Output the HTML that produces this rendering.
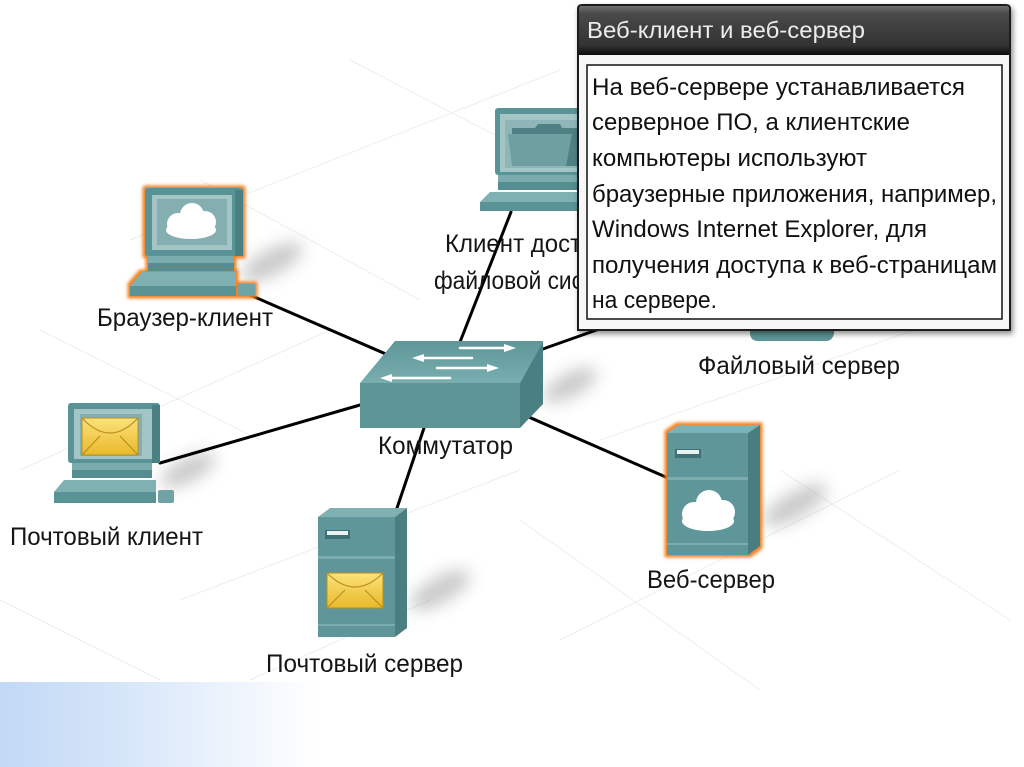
<!DOCTYPE html>
<html><head><meta charset="utf-8"><style>
html,body{margin:0;padding:0;background:#fff;}
svg{display:block;}
text{font-family:"Liberation Sans","Noto Sans CJK SC",sans-serif;}
</style></head><body>
<svg width="1024" height="767" viewBox="0 0 1024 767" xmlns="http://www.w3.org/2000/svg">
<defs>
 <linearGradient id="band" x1="0" x2="1" y1="0" y2="0">
  <stop offset="0" stop-color="#c2d8f5"/><stop offset="0.12" stop-color="#d6e6f9"/><stop offset="0.31" stop-color="#ffffff"/>
 </linearGradient>
 <linearGradient id="hdr" x1="0" x2="0" y1="0" y2="1">
  <stop offset="0" stop-color="#6e6e6e"/><stop offset="0.15" stop-color="#4a4a4a"/><stop offset="0.8" stop-color="#333"/><stop offset="1" stop-color="#0c0c0c"/>
 </linearGradient>
 <linearGradient id="env" x1="0" x2="0" y1="0" y2="1">
  <stop offset="0" stop-color="#fbe27a"/><stop offset="1" stop-color="#e9b92a"/>
 </linearGradient>
 <linearGradient id="swtop" x1="0" x2="0" y1="0" y2="1">
  <stop offset="0" stop-color="#5f9698"/><stop offset="1" stop-color="#79aeb0"/>
 </linearGradient>
 <filter id="glow" x="-20%" y="-20%" width="140%" height="140%">
  <feMorphology operator="dilate" radius="2.5" in="SourceAlpha" result="d"/>
  <feGaussianBlur in="d" stdDeviation="1.6" result="b"/>
  <feFlood flood-color="#f2801f"/>
  <feComposite in2="b" operator="in" result="g"/>
  <feMerge><feMergeNode in="g"/><feMergeNode in="SourceGraphic"/></feMerge>
 </filter>
 <filter id="blur" x="-50%" y="-50%" width="200%" height="200%"><feGaussianBlur stdDeviation="8"/></filter>
 <filter id="tshadow" x="-10%" y="-10%" width="120%" height="120%"><feDropShadow dx="2" dy="3" stdDeviation="3" flood-color="#000" flood-opacity="0.45"/></filter>
</defs>

<rect x="0" y="0" width="1024" height="767" fill="#fff"/>
<rect x="0" y="682" width="1024" height="85" fill="url(#band)"/>

<!-- faint floor grid -->
<g stroke="#eeeeee" stroke-width="1" fill="none">
 <line x1="130" y1="240" x2="560" y2="70"/>
 <line x1="350" y1="60" x2="620" y2="200"/>
 <line x1="200" y1="180" x2="420" y2="300"/>
 <line x1="20" y1="470" x2="330" y2="330"/>
 <line x1="40" y1="330" x2="260" y2="440"/>
 <line x1="180" y1="600" x2="520" y2="470"/>
 <line x1="520" y1="520" x2="760" y2="690"/>
 <line x1="600" y1="440" x2="1000" y2="300"/>
 <line x1="780" y1="470" x2="1010" y2="620"/>
 <line x1="560" y1="640" x2="900" y2="470"/>
 <line x1="250" y1="680" x2="430" y2="600"/>
 <line x1="0" y1="600" x2="160" y2="680"/>
</g>

<!-- shadows -->
<g fill="#8a8a8a" opacity="0.45" filter="url(#blur)">
 <ellipse cx="272" cy="262" rx="34" ry="13" transform="rotate(-28 272 262)"/>
 <ellipse cx="188" cy="470" rx="30" ry="12" transform="rotate(-28 188 470)"/>
 <ellipse cx="570" cy="385" rx="30" ry="12" transform="rotate(-28 570 385)"/>
 <ellipse cx="440" cy="590" rx="34" ry="13" transform="rotate(-30 440 590)"/>
 <ellipse cx="795" cy="505" rx="36" ry="13" transform="rotate(-30 795 505)"/>
</g>

<!-- connections -->
<g stroke="#000" stroke-width="3" stroke-linecap="round">
 <line x1="250" y1="295" x2="395" y2="358"/>
 <line x1="160" y1="463" x2="360" y2="405"/>
 <line x1="397" y1="508" x2="424" y2="428"/>
 <line x1="511" y1="212" x2="460" y2="342"/>
 <line x1="540" y1="350" x2="605" y2="327"/>
 <line x1="515" y1="411" x2="668" y2="478"/>
</g>

<!-- Browser client PC -->
<g filter="url(#glow)">
 <rect x="145" y="188" width="98" height="68" rx="3" fill="#5a9396"/>
 <rect x="235" y="190" width="8" height="66" fill="#4a8083"/>
 <rect x="152" y="195" width="80" height="55" fill="#a3c5c6"/>
 <rect x="157" y="199" width="70" height="46" fill="#84aeaf"/>
 <rect x="148" y="256" width="86" height="7" fill="#7aacae"/>
 <rect x="148" y="263" width="86" height="8" fill="#558d90"/>
 <polygon points="142,272 236,272 236,286 130,286" fill="#7fb0b2"/>
 <rect x="130" y="286" width="106" height="10" fill="#5a9396"/>
 <rect x="238" y="284" width="17" height="12" rx="2" fill="#6fa3a5"/>
</g>
<g fill="#fff">
 <circle cx="178" cy="224" r="11"/>
 <circle cx="192" cy="215" r="12"/>
 <circle cx="205" cy="222" r="11"/>
 <ellipse cx="191" cy="230" rx="25" ry="9"/>
</g>

<!-- Mail client PC -->
<g>
 <rect x="68" y="403" width="92" height="60" rx="3" fill="#5a9396"/>
 <rect x="152" y="405" width="8" height="58" fill="#4a8083"/>
 <rect x="74" y="409" width="78" height="50" fill="#a3c5c6"/>
 <rect x="80" y="414" width="62" height="42" fill="#84aeaf"/>
 <rect x="82" y="418" width="56" height="37" fill="url(#env)" stroke="#b98f22" stroke-width="1"/>
 <path d="M82 418 Q110 448 138 418 M82 455 L100 436 M138 455 L120 436" stroke="#b98f22" stroke-width="1.2" fill="none"/>
 <rect x="72" y="463" width="80" height="7" fill="#7aacae"/>
 <rect x="72" y="470" width="80" height="8" fill="#558d90"/>
 <polygon points="64,480 156,480 156,492 54,492" fill="#7fb0b2"/>
 <rect x="54" y="492" width="102" height="11" fill="#5a9396"/>
 <rect x="158" y="490" width="16" height="13" rx="2" fill="#6fa3a5"/>
</g>

<!-- File client PC (partially covered) -->
<g>
 <rect x="495" y="108" width="100" height="67" rx="3" fill="#5a9396"/>
 <rect x="500" y="114" width="90" height="58" fill="#a3c5c6"/>
 <rect x="505" y="120" width="80" height="48" fill="#8fb6b7"/>
 <polygon points="512,128 535,128 538,124 560,124 562,128 580,128 580,166 512,166" fill="#4f8184"/>
 <polygon points="508,134 572,134 566,166 512,166" fill="#6f9fa1"/>
 <rect x="498" y="175" width="90" height="7" fill="#7aacae"/>
 <rect x="498" y="182" width="90" height="8" fill="#558d90"/>
 <polygon points="490,192 590,192 590,202 480,202" fill="#7fb0b2"/>
 <rect x="480" y="202" width="110" height="9" fill="#5a9396"/>
</g>

<!-- File server visible bit -->
<path d="M750 318 L834 318 L834 334 Q832 341 826 341 L758 341 Q751 341 750 334 Z" fill="#5e9699"/>

<!-- Switch -->
<g>
 <polygon points="395,341 543,341 520,383 360,383" fill="url(#swtop)"/>
 <rect x="360" y="383" width="160" height="45" fill="#5d9597"/>
 <polygon points="520,383 543,341 543,404 520,428" fill="#4b8083"/>
 <g stroke="#fff" stroke-width="2.5" fill="#fff" stroke-linecap="round">
  <line x1="460" y1="348" x2="506" y2="348"/><polygon points="516,348 504,344 504,352" stroke="none"/>
  <line x1="422" y1="358" x2="472" y2="358"/><polygon points="412,358 424,354 424,362" stroke="none"/>
  <line x1="437" y1="368" x2="489" y2="368"/><polygon points="499,368 487,364 487,372" stroke="none"/>
  <line x1="390" y1="378" x2="450" y2="378"/><polygon points="380,378 392,374 392,382" stroke="none"/>
 </g>
</g>

<!-- Mail server -->
<g>
 <polygon points="318,517 330,508 407,508 395,517" fill="#7fb0b2"/>
 <rect x="318" y="517" width="77" height="120" fill="#5e9699"/>
 <polygon points="395,517 407,508 407,628 395,637" fill="#4a7e81"/>
 <rect x="318" y="556" width="77" height="3" fill="#7aabad"/>
 <rect x="318" y="624" width="77" height="2" fill="#7aabad"/>
 <rect x="325" y="530" width="25" height="9" fill="#3f7073"/>
 <rect x="327" y="531" width="21" height="4" fill="#e9f2f2"/>
 <rect x="327" y="573" width="56" height="35" fill="url(#env)" stroke="#b98f22" stroke-width="1"/>
 <path d="M327 573 Q355 601 383 573 M327 608 L345 590 M383 608 L365 590" stroke="#b98f22" stroke-width="1.2" fill="none"/>
</g>

<!-- Web server -->
<g filter="url(#glow)">
 <polygon points="667,433 679,425 760,425 748,433" fill="#7fb0b2"/>
 <rect x="667" y="433" width="81" height="122" fill="#5e9699"/>
 <polygon points="748,433 760,425 760,546 748,555" fill="#4a7e81"/>
</g>
<rect x="667" y="477" width="81" height="3" fill="#7aabad"/>
<rect x="667" y="543" width="81" height="2" fill="#7aabad"/>
<rect x="675" y="449" width="26" height="9" fill="#3f7073"/>
<rect x="677" y="450" width="22" height="4" fill="#e9f2f2"/>
<g fill="#fff">
 <circle cx="694" cy="514" r="12"/>
 <circle cx="709" cy="503" r="13"/>
 <circle cx="723" cy="512" r="12"/>
 <ellipse cx="708" cy="521" rx="26" ry="10"/>
</g>

<!-- Labels -->
<g fill="#151515" font-size="25">
 <text x="97" y="326" textLength="176" lengthAdjust="spacingAndGlyphs">Браузер-клиент</text>
 <text x="10" y="545" textLength="193" lengthAdjust="spacingAndGlyphs">Почтовый клиент</text>
 <text x="378" y="454" textLength="135" lengthAdjust="spacingAndGlyphs">Коммутатор</text>
 <text x="266" y="672" textLength="197" lengthAdjust="spacingAndGlyphs">Почтовый сервер</text>
 <text x="647" y="588" textLength="128" lengthAdjust="spacingAndGlyphs">Веб-сервер</text>
 <text x="698" y="374" textLength="202" lengthAdjust="spacingAndGlyphs">Файловый сервер</text>
 <text x="445" y="252" textLength="192" lengthAdjust="spacingAndGlyphs">Клиент доступа к</text>
 <text x="434" y="289" textLength="200" lengthAdjust="spacingAndGlyphs">файловой системе</text>
</g>

<!-- Tooltip -->
<g filter="url(#tshadow)">
 <path d="M582 5 L1006 5 Q1010 5 1010 9 L1010 330 L578 330 L578 9 Q578 5 582 5 Z" fill="#f7f7f7" stroke="#1e1e1e" stroke-width="2"/>
</g>
<path d="M582 6 L1006 6 Q1009 6 1009 9 L1009 55 L579 55 L579 9 Q579 6 582 6 Z" fill="url(#hdr)"/>
<text x="587" y="38" font-size="23" fill="#ececec" textLength="278" lengthAdjust="spacingAndGlyphs">Веб-клиент и веб-сервер</text>
<rect x="587" y="65" width="415" height="254" fill="#fff" stroke="#111" stroke-width="1.5"/>
<g fill="#111" font-size="24">
 <text x="592" y="95" textLength="373" lengthAdjust="spacingAndGlyphs">На веб-сервере устанавливается</text>
 <text x="592" y="130" textLength="318" lengthAdjust="spacingAndGlyphs">серверное ПО, а клиентские</text>
 <text x="592" y="166" textLength="275" lengthAdjust="spacingAndGlyphs">компьютеры используют</text>
 <text x="592" y="202" textLength="405" lengthAdjust="spacingAndGlyphs">браузерные приложения, например,</text>
 <text x="592" y="237" textLength="335" lengthAdjust="spacingAndGlyphs">Windows Internet Explorer, для</text>
 <text x="592" y="273" textLength="405" lengthAdjust="spacingAndGlyphs">получения доступа к веб-страницам</text>
 <text x="592" y="308" textLength="125" lengthAdjust="spacingAndGlyphs">на сервере.</text>
</g>
</svg>
</body></html>
